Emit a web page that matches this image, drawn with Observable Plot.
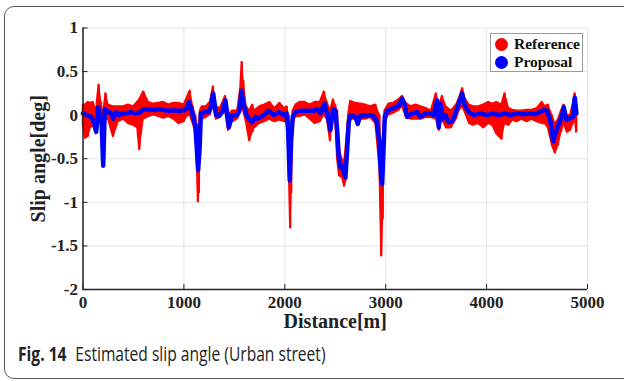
<!DOCTYPE html>
<html>
<head>
<meta charset="utf-8">
<script src="https://cdn.jsdelivr.net/npm/d3@7"></script>
<script src="https://cdn.jsdelivr.net/npm/@observablehq/plot@0.6"></script>
<style>
  html, body { margin: 0; padding: 0; background: #fff; width: 624px; height: 381px; overflow: hidden; }
  #frame { position: absolute; left: 4px; top: 6px; width: 660px; height: 371px; border: 1px solid #5a5a5a; border-radius: 10px; }
  #chart { position: absolute; left: 0; top: 0; }
  #legend { position: absolute; left: 490px; top: 33px; width: 91px; height: 37px; border: 1px solid #9a9a9a; background: #fff;
            font-family: "Liberation Serif", serif; font-weight: bold; font-size: 15.5px; color: #111; }
  .li { position: absolute; left: 4px; display: flex; align-items: center; }
  .sw { width: 13px; height: 13px; border-radius: 50%; margin-right: 6px; }
  #caption { position: absolute; left: 18px; top: 340px; font-family: "Open Sans", sans-serif; font-size: 19.5px; color: #222; white-space: nowrap;
             transform: scaleX(0.8); transform-origin: left center; }
  #caption b { font-weight: 700; margin-right: 11px; }
</style>
</head>
<body>
<div id="frame"></div>
<div id="chart"></div>
<div id="legend">
  <div class="li" style="top:1px"><span class="sw" style="background:#ff0000"></span>Reference</div>
  <div class="li" style="top:19px"><span class="sw" style="background:#0000ff"></span>Proposal</div>
</div>
<div id="caption"><b>Fig. 14</b>Estimated slip angle (Urban street)</div>
<script>
// Proposal (blue line): distance [m], slip angle [deg]
const propX = [0,40,80,110,131,150,167,185,200,216,240,270,300,330,360,390,430,470,520,560,600,650,700,750,800,850,900,950,1000,1030,1049,1082,1115,1141,1155,1168,1200,1247,1270,1290,1320,1346,1380,1412,1445,1478,1528,1551,1571,1594,1627,1677,1710,1726,1792,1841,1891,1940,1990,2017,2033,2049,2063,2079,2106,2155,2220,2287,2320,2353,2393,2426,2452,2479,2502,2519,2535,2552,2568,2585,2601,2618,2634,2651,2700,2723,2745,2800,2866,2906,2932,2955,2965,2975,2991,3015,3070,3130,3163,3186,3212,3262,3311,3344,3394,3444,3476,3510,3526,3543,3560,3592,3625,3659,3691,3724,3758,3784,3823,3873,3939,4000,4060,4120,4180,4236,4300,4360,4420,4480,4534,4567,4600,4633,4660,4683,4716,4749,4765,4789,4822,4855,4874,4890];
const propY = [0.02,0.0,-0.02,-0.08,-0.19,0.09,0.0,-0.1,-0.58,0.07,0.04,0.035,-0.04,0.035,0.0,0.02,0.02,0.035,0.02,0.03,0.065,0.07,0.06,0.07,0.06,0.05,0.055,0.05,0.055,0.08,0.15,0.036,-0.14,-0.63,-0.4,0.02,0.035,0.035,0.1,0.25,0.0,-0.01,0.035,0.17,-0.14,0.0,0.0,0.05,0.28,0.11,-0.02,-0.08,-0.02,-0.04,0.0,0.05,0.0,0.035,0.0,0.02,-0.17,-0.75,-0.29,-0.02,0.035,0.05,0.05,0.05,0.07,0.02,0.13,-0.02,-0.17,0.07,0.05,-0.17,-0.48,-0.6,-0.58,-0.65,-0.71,-0.4,-0.08,0.0,-0.02,-0.1,-0.01,0.0,0.0,-0.05,-0.25,-0.71,-0.79,-0.48,-0.02,0.05,0.08,0.11,0.19,0.13,-0.02,0.02,0.035,-0.02,0.02,0.02,0.0,0.17,-0.14,0.13,-0.05,0.0,-0.08,-0.07,0.02,0.13,0.25,0.11,0.035,0.0,0.02,0.0,0.02,0.0,0.02,0.0,0.02,0.01,0.02,0.01,0.04,0.06,0.05,-0.07,-0.3,-0.2,-0.1,0.0,0.09,-0.05,-0.04,-0.02,0.2,0.02];

// Reference (red scatter), read as local low/high extent at each distance
const refX  = [0,25,50,75,100,130,157,180,200,225,250,300,350,400,450,500,540,560,600,650,700,750,800,850,900,950,1000,1030,1060,1090,1115,1130,1140,1150,1160,1180,1220,1260,1290,1320,1360,1410,1440,1480,1530,1560,1575,1590,1620,1650,1680,1700,1750,1800,1850,1900,1950,2000,2020,2040,2055,2065,2080,2110,2150,2200,2250,2300,2350,2390,2420,2450,2480,2500,2520,2540,2570,2590,2610,2630,2650,2700,2750,2800,2850,2900,2940,2958,2972,2990,3030,3080,3130,3165,3200,3250,3300,3350,3400,3450,3500,3530,3560,3600,3650,3700,3730,3760,3790,3830,3870,3920,3970,4020,4060,4100,4150,4180,4220,4260,4300,4350,4400,4450,4500,4550,4580,4610,4650,4680,4710,4740,4765,4800,4830,4860,4875,4890];
const refLo = [-0.12,-0.27,-0.25,-0.15,-0.12,-0.22,-0.05,-0.1,-0.58,-0.05,-0.05,-0.25,-0.08,-0.05,-0.1,-0.12,-0.15,-0.4,-0.05,-0.02,0.0,-0.02,-0.04,-0.02,-0.05,-0.1,-0.08,-0.02,0.0,-0.1,-0.2,-0.5,-1.0,-0.9,-0.4,-0.05,-0.03,0.0,0.1,-0.05,-0.03,0.05,-0.18,-0.08,-0.05,0.05,0.1,0.05,-0.1,-0.3,-0.2,-0.15,-0.1,-0.08,-0.05,-0.08,-0.06,-0.08,-0.05,-0.5,-1.3,-0.9,-0.1,-0.02,-0.02,0.0,-0.05,-0.1,-0.08,0.0,-0.05,-0.3,0.0,-0.02,-0.5,-0.7,-0.72,-0.82,-0.75,-0.3,-0.05,-0.05,-0.05,-0.05,-0.03,-0.1,-0.6,-1.62,-1.2,-0.1,0.0,0.02,0.05,0.1,-0.02,-0.05,-0.05,-0.05,-0.03,-0.03,-0.05,-0.18,-0.05,-0.15,-0.15,-0.05,0.05,0.1,0.02,-0.1,-0.12,-0.1,-0.15,-0.1,-0.12,-0.22,-0.28,-0.1,-0.12,-0.06,-0.08,-0.05,-0.08,-0.05,-0.08,-0.1,-0.1,-0.15,-0.35,-0.44,-0.35,-0.2,-0.1,-0.2,-0.18,-0.1,0.0,-0.2];
const refHi = [0.12,0.12,0.15,0.14,0.15,0.05,0.35,0.15,0.0,0.25,0.12,0.1,0.1,0.1,0.12,0.1,0.15,0.18,0.27,0.15,0.13,0.14,0.15,0.12,0.14,0.14,0.12,0.2,0.28,0.1,0.0,-0.1,-0.3,-0.2,0.05,0.1,0.1,0.15,0.33,0.1,0.08,0.22,0.0,0.05,0.05,0.3,0.61,0.4,0.1,0.05,0.12,0.05,0.1,0.12,0.15,0.08,0.14,0.08,0.1,0.0,-0.5,-0.15,0.05,0.12,0.15,0.15,0.12,0.15,0.15,0.27,0.15,0.05,0.18,0.12,0.05,-0.4,-0.5,-0.55,-0.3,0.0,0.16,0.14,0.13,0.12,0.1,0.12,0.0,-0.6,-0.3,0.05,0.13,0.14,0.18,0.22,0.14,0.1,0.12,0.1,0.08,0.05,0.25,0.1,0.22,0.1,0.05,0.12,0.2,0.31,0.18,0.12,0.1,0.1,0.12,0.15,0.13,0.15,0.12,0.25,0.08,0.06,0.05,0.05,0.06,0.06,0.08,0.15,0.1,0.12,0.0,-0.1,-0.05,0.05,0.12,0.0,0.0,0.15,0.25,0.1];

const xTicks = [0,1000,2000,3000,4000,5000];
const yTicks = [1,0.5,0,-0.5,-1,-1.5,-2];
const xLabel = "Distance[m]";
const yLabel = "Slip angle[deg]";

const proposal = propX.map((x, i) => ({x, y: propY[i]}));
const reference = refX.map((x, i) => ({x, lo: refLo[i], hi: refHi[i]}));

const chart = Plot.plot({
  width: 624,
  height: 340,
  marginTop: 27.5,
  marginLeft: 82.5,
  marginRight: 37,
  marginBottom: 51,
  style: {fontFamily: "'Liberation Serif', serif", fontWeight: "bold", fontSize: "17px", color: "#222", background: "transparent"},
  x: {domain: [0, 5000]},
  y: {domain: [-2, 1]},
  marks: [
    Plot.gridX(xTicks, {stroke: "#e4e4e4", strokeOpacity: 1}),
    Plot.gridY(yTicks, {stroke: "#e4e4e4", strokeOpacity: 1}),
    Plot.areaY(reference, {x: "x", y1: "lo", y2: "hi", fill: "#ff0000", stroke: "#ff0000", strokeWidth: 1.5, curve: "linear"}),
    Plot.ruleX(reference, {x: "x", y1: "lo", y2: "hi", stroke: "#ff0000", strokeWidth: 2}),
    Plot.line(proposal, {x: "x", y: "y", stroke: "#0000ff", strokeWidth: 4.5, strokeLinejoin: "round"}),
    Plot.axisX(xTicks, {tickSize: -5, tickPadding: 11, tickFormat: d => String(d), label: null, fontSize: 17}),
    Plot.axisY(yTicks, {tickSize: -5, tickPadding: 10, tickFormat: d => String(d), label: null, fontSize: 17}),
    Plot.text([xLabel], {frameAnchor: "bottom", dy: 38, fontSize: 20, fontWeight: "bold", fill: "#222"}),
    Plot.text([yLabel], {frameAnchor: "left", textAnchor: "middle", dx: -44, rotate: -90, fontSize: 20, fontWeight: "bold", fill: "#222"}),
    Plot.ruleX([0], {stroke: "#222", strokeWidth: 1.5}),
    Plot.ruleY([-2], {stroke: "#222", strokeWidth: 1.5})
  ]
});
document.getElementById("chart").appendChild(chart);
</script>
</body>
</html>
